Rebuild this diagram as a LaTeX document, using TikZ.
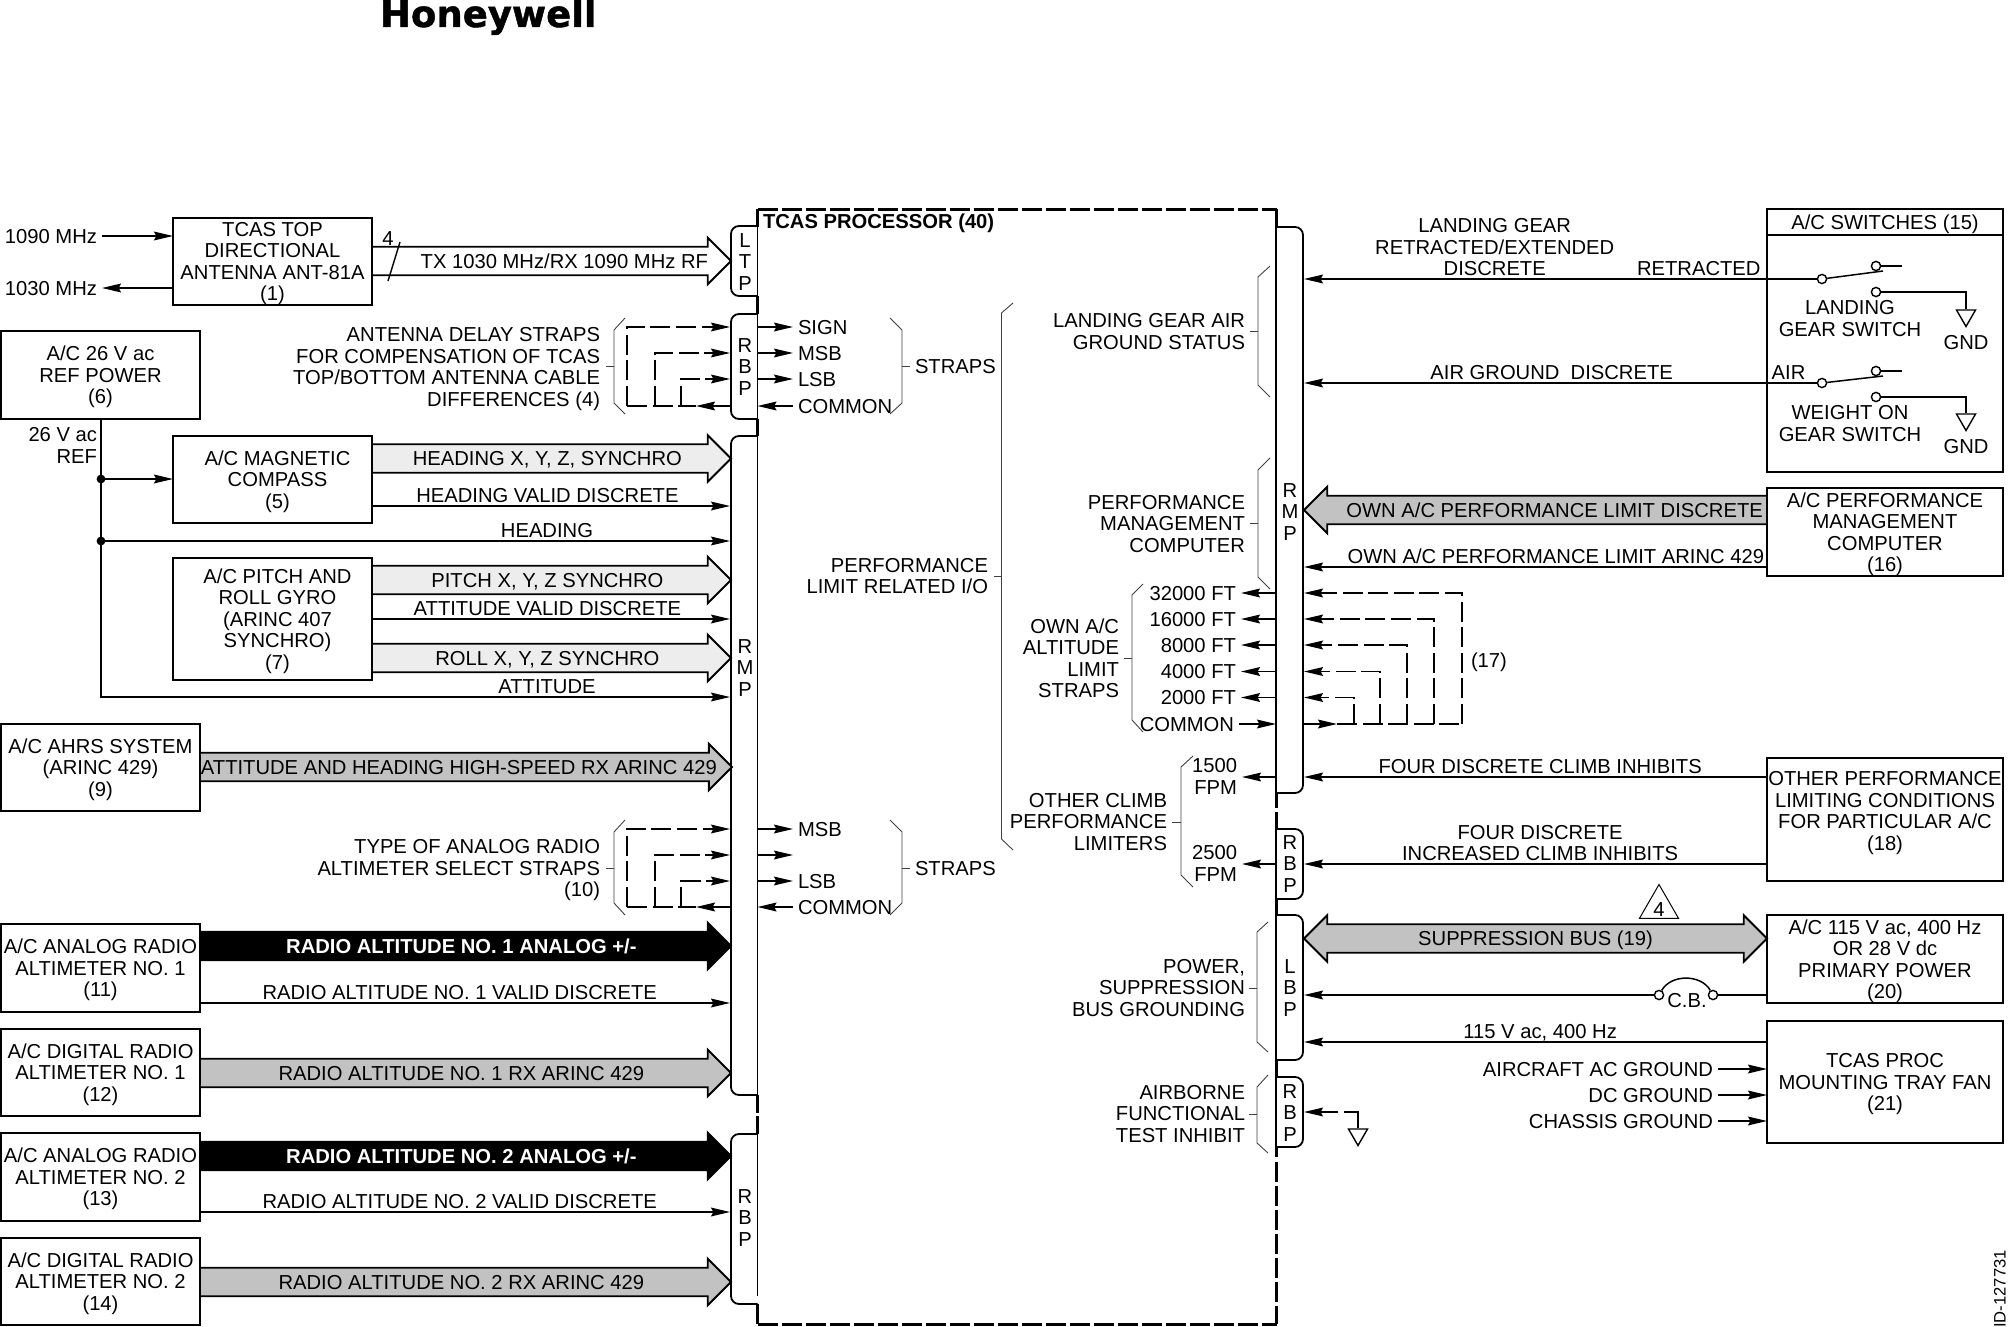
\documentclass[tikz,border=0pt]{standalone}
\usepackage{fontspec}
\setmainfont{Liberation Sans}
\newfontfamily\logofont{DejaVu Sans}[BoldFeatures={FakeBold=1.2}]
\usepackage{xcolor}
\usetikzlibrary{arrows.meta, positioning, shapes.geometric, shapes.arrows}
\definecolor{palebus}{gray}{0.93}
\definecolor{greybus}{gray}{0.76}
\newcommand{\lblfont}{\fontsize{10.1}{10.75}\selectfont}

\begin{document}
\begin{tikzpicture}[x=0.5pt, y=-0.5pt, >={Stealth[length=9.5pt, width=4.4pt, inset=1.2pt]},
        txt/.style={font=\lblfont, inner sep=0pt, outer sep=0pt, align=center},
        rtxt/.style={txt, align=right, anchor=east},
        onetxt/.style={txt, text height=7.3pt, text depth=0pt, inner xsep=2.5pt},
        over/.style={onetxt, above=1.6pt},
        boxtxt/.style={txt, text depth=0pt},
        lbox/.style={rectangle, draw, line width=0.95pt, boxtxt, minimum width=99.5pt, minimum height=43.75pt},
        mbox/.style={lbox, minimum height=43.5pt},
        rbox/.style={lbox, minimum width=118pt, minimum height=44pt},
        sig/.style={->, line width=0.85pt},
        strap/.style={line width=0.8pt, dash pattern=on 10pt off 2.8pt},
        bus/.style={single arrow, draw, line width=0.95pt, txt, text height=7.3pt, text depth=0pt, inner ysep=3pt, inner xsep=0pt, single arrow head extend=4.5pt, anchor=tail, execute at begin node={\hspace*{3pt}}},
        blackbus/.style={bus, fill=black, text=white, font=\lblfont\bfseries},
        brace/.style={line width=0.45pt, black!75},
        edge/.style={line width=1.5pt},
        dashedge/.style={edge, dash pattern=on 10pt off 2pt},
        tabline/.style={line width=0.9pt, rounded corners=4pt},
        contact/.style={circle, draw, fill=white, line width=0.7pt, minimum size=4.6pt, inner sep=0pt},
        gnd/.style={regular polygon, regular polygon sides=3, shape border rotate=180, draw, line width=0.7pt, inner sep=0pt, minimum size=11pt}]

    \useasboundingbox (0,0) rectangle (2009,1327);

    \node (logo) [txt, font=\fontsize{18.5}{20}\selectfont\logofont\bfseries, anchor=base west] at (380,27) {Honeywell};
    \node (docid) [txt, rotate=90, font=\fontsize{8.3}{9}\selectfont] at (2000,1289) {ID-127731};

    \node (proc) [rectangle, inner sep=0pt, minimum width=259.25pt, minimum height=557.5pt, anchor=north west] at (757.5,209) {};
    \node (proctitle) [txt, font=\lblfont\bfseries, anchor=west] at (763,223) {TCAS PROCESSOR (40)};
    \draw[dashedge] (proc.north west) -- (proc.north east);
    \draw[dashedge] (proc.south west) -- (proc.south east);

    \coordinate (lt) at (730,0);
    \coordinate (pl) at (757.5,0);
    \coordinate (pr) at (1276,0);
    \coordinate (rt) at (1304,0);

    \draw[edge] (757.5,209) -- (757.5,227);
    \draw[edge] (757.5,296) -- (757.5,314);
    \draw[edge] (757.5,419) -- (757.5,436);
    \draw[edge] (757.5,1095) -- (757.5,1113);
    \draw[edge] (757.5,1116) -- (757.5,1134);
    \draw[edge] (757.5,1304) -- (757.5,1324);
    \draw[edge] (1276,209) -- (1276,227);
    \draw[edge] (1276,793) -- (1276,808);
    \draw[edge] (1276,812) -- (1276,829);
    \draw[edge] (1276,899) -- (1276,915);
    \draw[edge] (1276,1060) -- (1276,1077);
    \draw[edge] (1276,1147) -- (1276,1157);
    \draw[dashedge] (1276,1162) -- (1276,1324);

    \draw[tabline] (757.5,226) -- (731,226) -- (731,296) -- (757.5,296);
    \draw[tabline] (757.5,314) -- (731,314) -- (731,419) -- (757.5,419);
    \draw[tabline] (757.5,436) -- (731,436) -- (731,1095) -- (757.5,1095);
    \draw[tabline] (757.5,1134) -- (731,1134) -- (731,1304) -- (757.5,1304);
    \draw[tabline] (1276,227) -- (1303,227) -- (1303,793) -- (1276,793);
    \draw[tabline] (1276,829) -- (1303,829) -- (1303,899) -- (1276,899);
    \draw[tabline] (1276,915) -- (1303,915) -- (1303,1060) -- (1276,1060);
    \draw[tabline] (1276,1077) -- (1303,1077) -- (1303,1147) -- (1276,1147);
    \draw[line width=0.9pt] (757.5,226) -- (757.5,296);
    \draw[line width=0.9pt] (757.5,314) -- (757.5,419);
    \draw[line width=0.9pt] (757.5,436) -- (757.5,1095);
    \draw[line width=0.9pt] (757.5,1134) -- (757.5,1296);
    \draw[line width=0.9pt] (1276,227) -- (1276,793);
    \draw[line width=0.9pt] (1276,829) -- (1276,899);
    \draw[line width=0.9pt] (1276,915) -- (1276,1060);
    \draw[line width=0.9pt] (1276,1077) -- (1276,1147);

    \node (ltp) [txt] at (745,262) {L\\T\\P};
    \node (rbp1) [txt] at (745,367) {R\\B\\P};
    \node (rmp1) [txt] at (745,668) {R\\M\\P};
    \node (rbp2) [txt] at (745,1218) {R\\B\\P};
    \node (rmp2) [txt] at (1290,512) {R\\M\\P};
    \node (rbp3) [txt] at (1290,864) {R\\B\\P};
    \node (lbp1) [txt] at (1290,988) {L\\B\\P};
    \node (rbp4) [txt] at (1290,1113) {R\\B\\P};

    \node (ant) [mbox] at (272.5,261.5) {TCAS TOP\\DIRECTIONAL\\ANTENNA ANT-81A\\(1)};
    \node (f1090) [onetxt, anchor=east] at (102,236) {1090 MHz};
    \node (f1030) [onetxt, anchor=east] at (102,288) {1030 MHz};
    \draw[sig] (f1090.east) -- (f1090 -| ant.west);
    \draw[sig] (f1030 -| ant.west) -- (f1030.east);
    \node (rfbus) [bus, fill=white, minimum height=179.5pt] at (372,261) {\hspace*{17pt}TX 1030 MHz/RX 1090 MHz RF};
    \coordinate (sl1) at (400,242);
    \coordinate (sl2) at (388,281);
    \draw[line width=0.7pt] (sl1) -- (sl2);
    \node (four) [txt] at (388,239) {4};

    \node (refp) [lbox] at (100.5,375) {A/C 26 V ac\\REF POWER\\(6)};
    \node (refl) [rtxt] at (97,445.5) {26 V ac\\REF};
    \node (mag) [mbox] at (272.5,479.5) {};
    \node (magt) [boxtxt, xshift=2.5pt] at (mag) {A/C MAGNETIC\\COMPASS\\(5)};
    \node (gyro) [mbox, minimum height=61pt, below=17.5pt of mag] {};
    \node (gyrot) [boxtxt, xshift=2.5pt] at (gyro) {A/C PITCH AND\\ROLL GYRO\\(ARINC 407\\SYNCHRO)\\(7)};
    \node (ahrs) [lbox] at (100.5,767.5) {A/C AHRS SYSTEM\\(ARINC 429)\\(9)};
    \node (alt1) [lbox] at (100.5,968) {A/C ANALOG RADIO\\ALTIMETER NO. 1\\(11)};
    \node (dig1) [lbox, below=8.5pt of alt1] {A/C DIGITAL RADIO\\ALTIMETER NO. 1\\(12)};
    \node (alt2) [lbox, below=8.5pt of dig1] {A/C ANALOG RADIO\\ALTIMETER NO. 2\\(13)};
    \node (dig2) [lbox, below=8.5pt of alt2] {A/C DIGITAL RADIO\\ALTIMETER NO. 2\\(14)};

    \coordinate (jn1) at (101,479);
    \coordinate (jn2) at (101,541);
    \coordinate (jn3) at (101,697);
    \fill (jn1) circle (2.2pt);
    \fill (jn2) circle (2.2pt);
    \draw[sig] (refp.south -| jn1) -- (jn3) -- node (lattd) [over, pos=0.709] {ATTITUDE} (jn3 -| lt);
    \draw[sig] (jn1) -- (jn1 -| mag.west);
    \draw[sig, line width=0.7pt] (jn2) -- node (lhead) [over, pos=0.709] {HEADING} (jn2 -| lt);

    \node (hdgbus) [bus, fill=palebus, minimum height=179.5pt] at (372,458.5) {HEADING X, Y, Z, SYNCHRO};
    \coordinate (hvd) at (730,506);
    \draw[sig] (hvd -| mag.east) -- node (lhvd) [over, pos=0.49] {HEADING VALID DISCRETE} (hvd);
    \node (ptcbus) [bus, fill=palebus, minimum height=179.5pt] at (372,580) {PITCH X, Y, Z SYNCHRO};
    \coordinate (avd) at (730,619);
    \draw[sig] (avd -| gyro.east) -- node (lavd) [over, pos=0.49] {ATTITUDE VALID DISCRETE} (avd);
    \node (rolbus) [bus, fill=palebus, minimum height=179.5pt] at (372,658) {ROLL X, Y, Z SYNCHRO};
    \node (ahrsbus) [bus, fill=greybus, minimum height=265.5pt] at (200,767) {\hspace*{-3pt}ATTITUDE AND HEADING HIGH-SPEED RX ARINC 429};
    \node (ra1bus) [blackbus, minimum height=265.5pt] at (200,946) {RADIO ALTITUDE NO. 1 ANALOG +/-};
    \coordinate (rv1) at (730,1003);
    \draw[sig] (rv1 -| alt1.east) -- node (lrv1) [over, pos=0.49] {RADIO ALTITUDE NO. 1 VALID DISCRETE} (rv1);
    \node (rd1bus) [bus, fill=greybus, minimum height=265.5pt] at (200,1073) {RADIO ALTITUDE NO. 1 RX ARINC 429};
    \node (ra2bus) [blackbus, minimum height=265.5pt] at (200,1156) {RADIO ALTITUDE NO. 2 ANALOG +/-};
    \coordinate (rv2) at (730,1212);
    \draw[sig] (rv2 -| alt2.east) -- node (lrv2) [over, pos=0.49] {RADIO ALTITUDE NO. 2 VALID DISCRETE} (rv2);
    \node (rd2bus) [bus, fill=greybus, minimum height=265.5pt] at (200,1282) {RADIO ALTITUDE NO. 2 RX ARINC 429};

    \node (dly) [rtxt] at (600,369) {ANTENNA DELAY STRAPS\\FOR COMPENSATION OF TCAS\\TOP/BOTTOM ANTENNA CABLE\\DIFFERENCES (4)};
    \draw[brace] (606,366) -- (614,366);
    \draw[brace] (625,318) -- (614,330) -- (614,403) -- (625,414);
    \node (sign1) [onetxt, anchor=west] at (793,327) {SIGN};
    \node (msb1) [onetxt, anchor=west] at (793,353) {MSB};
    \node (lsb1) [onetxt, anchor=west] at (793,379) {LSB};
    \node (com1) [onetxt, anchor=west] at (793,406) {COMMON};
    \draw[sig] (sign1 -| pl) -- (sign1.west);
    \draw[sig] (msb1 -| pl) -- (msb1.west);
    \draw[sig] (lsb1 -| pl) -- (lsb1.west);
    \draw[sig] (com1.west) -- (com1 -| pl);
    \coordinate (ca1) at (627,406);
    \coordinate (ca2) at (655,406);
    \coordinate (ca3) at (681,406);
    \coordinate (ca4) at (696,406);
    \draw[strap, ->] (ca1) |- (sign1 -| lt);
    \draw[strap, ->] (ca2) |- (msb1 -| lt);
    \draw[strap, ->] (ca3) |- (lsb1 -| lt);
    \draw[strap] (ca1) -- (ca4);
    \draw[sig] (com1 -| lt) -- (ca4);
    \draw[brace] (890,318) -- (902,330) -- (902,403) -- (890,414);
    \node (str1) [onetxt, anchor=west] at (910,366) {STRAPS};
    \draw[brace] (902,366) -- (str1.west);

    \node (typ) [rtxt] at (600,870.5) {TYPE OF ANALOG RADIO\\ALTIMETER SELECT STRAPS\\(10)};
    \draw[brace] (606,868) -- (614,868);
    \draw[brace] (625,820) -- (614,832) -- (614,903) -- (625,915);
    \node (msb2) [onetxt, anchor=west] at (793,829) {MSB};
    \coordinate (nc2) at (793,855);
    \node (lsb2) [onetxt, anchor=west] at (793,881) {LSB};
    \node (com2) [onetxt, anchor=west] at (793,907) {COMMON};
    \draw[sig] (msb2 -| pl) -- (msb2.west);
    \draw[sig] (nc2 -| pl) -- (nc2);
    \draw[sig] (lsb2 -| pl) -- (lsb2.west);
    \draw[sig] (com2.west) -- (com2 -| pl);
    \coordinate (cb1) at (627,907);
    \coordinate (cb2) at (655,907);
    \coordinate (cb3) at (681,907);
    \coordinate (cb4) at (696,907);
    \draw[strap, ->] (cb1) |- (msb2 -| lt);
    \draw[strap, ->] (cb2) |- (nc2 -| lt);
    \draw[strap, ->] (cb3) |- (lsb2 -| lt);
    \draw[strap] (cb1) -- (cb4);
    \draw[sig] (com2 -| lt) -- (cb4);
    \draw[brace] (890,820) -- (902,832) -- (902,903) -- (890,915);
    \node (str2) [onetxt, anchor=west] at (910,868) {STRAPS};
    \draw[brace] (902,868) -- (str2.west);

    \node (plr) [rtxt] at (988,576) {PERFORMANCE\\LIMIT RELATED I/O};
    \draw[brace] (994,576) -- (1001.5,576);
    \draw[brace] (1013,303) -- (1001.5,313) -- (1001.5,839) -- (1013,850);

    \node (lgs) [rtxt] at (1245,331.5) {LANDING GEAR AIR\\GROUND STATUS};
    \draw[brace] (1250,331) -- (1258,331);
    \draw[brace] (1270,266) -- (1258,277) -- (1258,385) -- (1270,397);
    \node (pmc) [rtxt] at (1245,524) {PERFORMANCE\\MANAGEMENT\\COMPUTER};
    \draw[brace] (1250,523) -- (1258,523);
    \draw[brace] (1270,458) -- (1258,470) -- (1258,577) -- (1270,589);
    \node (oas) [rtxt] at (1119,658.5) {OWN A/C\\ALTITUDE\\LIMIT\\STRAPS};
    \draw[brace] (1124,658) -- (1132,658);
    \draw[brace] (1143,584) -- (1132,595) -- (1132,720) -- (1143,732);
    \node (ocl) [rtxt] at (1167,822) {OTHER CLIMB\\PERFORMANCE\\LIMITERS};
    \draw[brace] (1172,822) -- (1181,822);
    \draw[brace] (1193,756) -- (1181,767) -- (1181,875) -- (1193,887);
    \node (psb) [rtxt] at (1245,988) {POWER,\\SUPPRESSION\\BUS GROUNDING};
    \draw[brace] (1249,988) -- (1257,988);
    \draw[brace] (1268,922) -- (1257,932) -- (1257,1042) -- (1268,1052);
    \node (aft) [rtxt] at (1245,1114) {AIRBORNE\\FUNCTIONAL\\TEST INHIBIT};
    \draw[brace] (1249,1114) -- (1257,1114);
    \draw[brace] (1268,1075) -- (1257,1087) -- (1257,1143) -- (1268,1153);

    \node (a32) [onetxt, anchor=east] at (1241,593) {32000 FT};
    \node (a16) [onetxt, anchor=east] at (1241,619) {16000 FT};
    \node (a8) [onetxt, anchor=east] at (1241,645) {8000 FT};
    \node (a4) [onetxt, anchor=east] at (1241,671.5) {4000 FT};
    \node (a2) [onetxt, anchor=east] at (1241,697.5) {2000 FT};
    \node (com3) [onetxt, anchor=east] at (1239,724) {COMMON};
    \draw[sig] (a32 -| pr) -- (a32.east);
    \draw[sig] (a16 -| pr) -- (a16.east);
    \draw[sig] (a8 -| pr) -- (a8.east);
    \draw[sig] (a4 -| pr) -- (a4.east);
    \draw[sig] (a2 -| pr) -- (a2.east);
    \draw[sig] (com3.east) -- (com3 -| pr);
    \coordinate (k0) at (1337,724);
    \coordinate (k1) at (1354,724);
    \coordinate (k2) at (1380,724);
    \coordinate (k3) at (1407,724);
    \coordinate (k4) at (1434,724);
    \coordinate (k5) at (1462,724);
    \draw[strap, ->] (k5) |- (a32 -| rt);
    \draw[strap, ->] (k4) |- (a16 -| rt);
    \draw[strap, ->] (k3) |- (a8 -| rt);
    \draw[strap, ->] (k2) |- (a4 -| rt);
    \draw[strap, ->] (k1) |- (a2 -| rt);
    \draw[strap] (k0) -- (k5);
    \draw[sig] (com3 -| rt) -- (k0);
    \node (l17) [onetxt, anchor=west] at (1466,660) {(17)};

    \node (f15) [rtxt] at (1237,776.5) {1500\\FPM};
    \node (f25) [rtxt] at (1237,863.5) {2500\\FPM};
    \coordinate (fa) at (1242,777);
    \coordinate (fb) at (1242,864);
    \draw[sig] (fa -| pr) -- (fa);
    \draw[sig] (fb -| pr) -- (fb);

    \node (swit) [rbox, minimum height=131.5pt] at (1885,340.5) {};
    \node (swtitle) [onetxt] at (1885,222) {A/C SWITCHES (15)};
    \coordinate (swdiv) at (1767,235);
    \draw[line width=0.95pt] (swdiv) -- (swdiv -| swit.east);
    \node (perf) [rbox, below=8pt of swit] {A/C PERFORMANCE\\MANAGEMENT\\COMPUTER\\(16)};
    \node (othr) [rbox, minimum height=61.5pt] at (1885,819.5) {OTHER PERFORMANCE\\LIMITING CONDITIONS\\FOR PARTICULAR A/C\\(18)\\[-2pt]~};
    \node (prim) [rbox] at (1885,959) {A/C 115 V ac, 400 Hz\\OR 28 V dc\\PRIMARY POWER\\(20)};
    \node (fan) [rbox, minimum height=61pt, below=9pt of prim] {TCAS PROC\\MOUNTING TRAY FAN\\(21)};

    \node (piv1) [contact] at (1822,279) {};
    \node (up1) [contact] at (1876,266) {};
    \node (lo1) [contact] at (1876,292) {};
    \node (gnd1) [gnd] at (1966,315.5) {};
    \coordinate (arm1) at (1883,271);
    \coordinate (stub1) at (1902,266);
    \draw[line width=0.75pt] (piv1) -- (arm1);
    \draw[line width=0.75pt] (up1) -- (stub1);
    \draw[line width=0.75pt] (lo1) -| (gnd1.north);
    \draw[sig] (piv1) -- node (lret) [over, pos=0.23] {RETRACTED} node (llg) [txt, above=1.6pt, pos=0.628] {LANDING GEAR\\RETRACTED/EXTENDED\\DISCRETE} (piv1 -| rt);
    \node (lgsw) [txt] at (1850,318.5) {LANDING\\GEAR SWITCH};
    \node (gt1) [onetxt] at (1966,342) {GND};

    \node (piv2) [contact] at (1822,383) {};
    \node (up2) [contact] at (1876,371) {};
    \node (lo2) [contact] at (1876,397) {};
    \node (gnd2) [gnd] at (1966,419.5) {};
    \coordinate (arm2) at (1883,376);
    \coordinate (stub2) at (1902,371);
    \draw[line width=0.75pt] (piv2) -- (arm2);
    \draw[line width=0.75pt] (up2) -- (stub2);
    \draw[line width=0.75pt] (lo2) -| (gnd2.north);
    \draw[sig] (piv2) -- node (lair) [over, pos=0.055] {AIR} node (lagd) [over, pos=0.517] {AIR GROUND\ \ DISCRETE} (piv2 -| rt);
    \node (wgsw) [txt] at (1850,423.5) {WEIGHT ON\\GEAR SWITCH};
    \node (gt2) [onetxt] at (1966,446) {GND};

    \node (ownbus) [bus, fill=greybus, minimum height=231.5pt, shape border rotate=180] at (1767,510) {\hspace*{9pt}OWN A/C PERFORMANCE LIMIT DISCRETE};
    \coordinate (own) at (1304,567);
    \draw[sig] (own -| perf.west) -- node (lown) [over, pos=0.456] {OWN A/C PERFORMANCE LIMIT ARINC 429} (own);

    \coordinate (fd1) at (1304,777);
    \coordinate (fd2) at (1304,864);
    \draw[sig] (fd1 -| othr.west) -- node (lfd1) [over, pos=0.49] {FOUR DISCRETE CLIMB INHIBITS} (fd1);
    \draw[sig] (fd2 -| othr.west) -- node (lfd2) [txt, above=1.6pt, pos=0.49] {FOUR DISCRETE\\INCREASED CLIMB INHIBITS} (fd2);

    \node (supbus) [double arrow, draw, fill=greybus, line width=0.95pt, txt, text height=7.3pt, text depth=0pt, inner ysep=3pt, inner xsep=0pt, double arrow head extend=4.5pt, minimum height=231.5pt] at (1535.5,938.5) {SUPPRESSION BUS (19)};
    \node (note) [regular polygon, regular polygon sides=3, draw, line width=0.5pt, inner sep=0pt, minimum size=22.5pt] at (1659,907) {};
    \node (notenum) [txt] at (1659,910) {4};

    \node (cbl) [contact] at (1659,995) {};
    \node (cbr) [contact] at (1713,995) {};
    \draw[line width=0.75pt] (cbl) to[out=60, in=120] (cbr);
    \node (cbt) [onetxt] at (1687,1000) {C.B.};
    \draw[sig] (cbl) -- (cbl -| rt);
    \draw[line width=0.85pt] (cbr -| prim.west) -- (cbr);

    \coordinate (vac) at (1304,1042);
    \draw[sig] (vac -| fan.west) -- node (lvac) [over, pos=0.49] {115 V ac, 400 Hz} (vac);
    \node (acg) [onetxt, anchor=east] at (1718,1069) {AIRCRAFT AC GROUND};
    \node (dcg) [onetxt, anchor=east] at (1718,1095) {DC GROUND};
    \node (chg) [onetxt, anchor=east] at (1718,1121) {CHASSIS GROUND};
    \draw[sig] (acg.east) -- (acg -| fan.west);
    \draw[sig] (dcg.east) -- (dcg -| fan.west);
    \draw[sig] (chg.east) -- (chg -| fan.west);

    \node (gnd3) [gnd] at (1358,1134.5) {};
    \coordinate (tst) at (1304,1112);
    \draw[strap, dash pattern=on 15pt off 3pt, ->] (gnd3.north) |- (tst);
\end{tikzpicture}
\end{document}
